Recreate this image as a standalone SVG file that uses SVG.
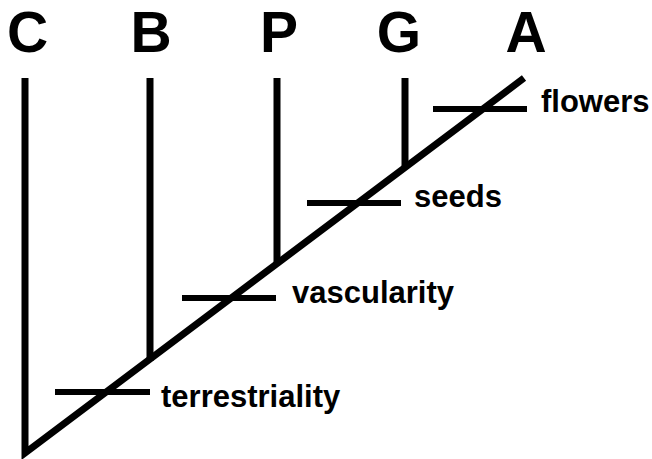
<svg xmlns="http://www.w3.org/2000/svg" width="652" height="459" viewBox="0 0 652 459">
<style>
.taxon{font-family:"Liberation Sans",Arial,sans-serif;font-weight:bold;font-size:57px;fill:#000;text-anchor:middle}
.trait{font-family:"Liberation Sans",Arial,sans-serif;font-weight:bold;font-size:31px;fill:#000}
.ln{stroke:#000;stroke-width:7;fill:none;stroke-linecap:butt;stroke-linejoin:miter;stroke-miterlimit:10}
.hatch{stroke:#000;stroke-width:6;fill:none}
</style>
<rect width="652" height="459" fill="#fff"/>
<g id="C"><text class="taxon" x="27.5" y="52">C</text></g>
<g id="B"><text class="taxon" x="151" y="52">B</text></g>
<g id="P"><text class="taxon" x="279" y="52">P</text></g>
<g id="G"><text class="taxon" x="399" y="52">G</text></g>
<g id="A"><text class="taxon" x="526" y="52">A</text></g>
<g id="connectors">
<polyline class="ln" points="25,78 25,453 524,78"/>
<line class="ln" x1="150" y1="78" x2="150" y2="361"/>
<line class="ln" x1="277" y1="78" x2="277" y2="265"/>
<line class="ln" x1="405" y1="78" x2="405" y2="169"/>
</g>
<g id="terrestriality"><line class="hatch" x1="55" y1="392" x2="150" y2="392"/><text class="trait" x="161" y="407">terrestriality</text></g>
<g id="vascularity"><line class="hatch" x1="182" y1="298" x2="276" y2="298"/><text class="trait" x="292" y="303">vascularity</text></g>
<g id="seeds"><line class="hatch" x1="307" y1="203" x2="401" y2="203"/><text class="trait" x="414" y="207">seeds</text></g>
<g id="flowers"><line class="hatch" x1="433" y1="109" x2="527" y2="109"/><text class="trait" x="541" y="112">flowers</text></g>
</svg>
